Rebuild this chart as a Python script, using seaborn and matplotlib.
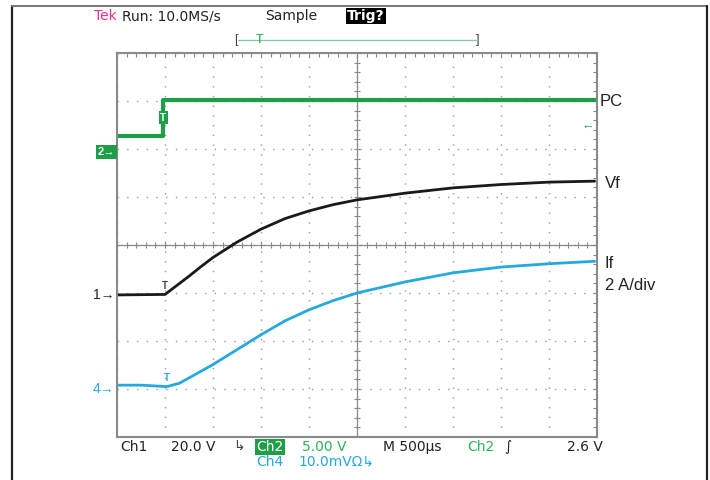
import numpy as np
import pandas as pd
import matplotlib.pyplot as plt
import matplotlib.transforms as mtrans
from matplotlib.lines import Line2D
import seaborn as sns

# --- trace data (divisions: x 0..10, y 0..8) ---
pc_x = [0.0, 0.96, 0.96, 10.0]
pc_y = [6.27, 6.27, 7.02, 7.02]

vf_x = [0.0, 1.0, 1.25, 1.5, 1.75, 2.0, 2.5, 3.0, 3.5, 4.0, 4.5, 5.0, 6.0, 7.0, 8.0, 9.0, 9.95]
vf_y = [2.96, 2.97, 3.16, 3.35, 3.55, 3.74, 4.06, 4.33, 4.55, 4.71, 4.84, 4.94, 5.08, 5.19, 5.26, 5.31, 5.33]

if_x = [0.0, 0.5, 1.04, 1.3, 1.5, 2.0, 2.5, 3.0, 3.5, 4.0, 4.5, 5.0, 6.0, 7.0, 8.0, 9.0, 9.95]
if_y = [1.08, 1.08, 1.05, 1.12, 1.23, 1.51, 1.82, 2.13, 2.42, 2.65, 2.84, 3.0, 3.23, 3.42, 3.54, 3.61, 3.66]

channels = ["PC", "Vf", "If"]
colors = {"PC": "#1f9e48", "Vf": "#1a1a1a", "If": "#25a9e0"}
widths = {"PC": 3.0, "Vf": 2.0, "If": 2.0}

df = pd.concat([
    pd.DataFrame({"t": pc_x, "v": pc_y, "ch": "PC"}),
    pd.DataFrame({"t": vf_x, "v": vf_y, "ch": "Vf"}),
    pd.DataFrame({"t": if_x, "v": if_y, "ch": "If"}),
], ignore_index=True)

sns.set_style("white")
plt.rcParams['font.family'] = ['Liberation Sans', 'DejaVu Sans']

W, H = 710, 480
fig = plt.figure(figsize=(W / 100, H / 100), dpi=100)
ax = fig.add_axes([117 / W, 1 - 437 / H, 480 / W, 384 / H])

def fx(x):
    return x / W

def fy(y):
    return 1 - y / H

# outer frame (open at bottom)
fig.add_artist(Line2D([fx(12), fx(12)], [fy(6), 0], color="#222222", lw=1.6))
fig.add_artist(Line2D([fx(12), fx(707)], [fy(6), fy(6)], color="#777777", lw=1.4))
fig.add_artist(Line2D([fx(707), fx(707)], [fy(6), 0], color="#222222", lw=1.6))

# graticule
ax.set_xlim(0, 10)
ax.set_ylim(0, 8)
ax.set_xticks(np.arange(0, 11, 1))
ax.set_yticks(np.arange(0, 9, 1))
ax.set_xticks(np.arange(0, 10.01, 0.2), minor=True)
ax.set_yticks(np.arange(0, 8.01, 0.2), minor=True)
ax.set_xticklabels([])
ax.set_yticklabels([])
ax.tick_params(which="both", direction="in", top=True, right=True, color="#888888",
               length=3, width=0.8)
ax.grid(True, which="major", color="#9a9a9a", linestyle=(0, (1, 6)), linewidth=1.0)
for s in ax.spines.values():
    s.set_color("#8a8a8a")
    s.set_linewidth(1.5)

# center cross with tick marks
ax.axvline(5, color="#8a8a8a", lw=0.9)
ax.axhline(4, color="#8a8a8a", lw=0.9)
mx = np.arange(0, 10.01, 0.2)
my = np.arange(0, 8.01, 0.2)
ax.plot(mx, np.full_like(mx, 4), ls="none", marker="|", ms=5, mew=0.8, color="#8a8a8a")
ax.plot(np.full_like(my, 5), my, ls="none", marker="_", ms=5, mew=0.8, color="#8a8a8a")

# traces
for ch in channels:
    sns.lineplot(data=df[df["ch"] == ch], x="t", y="v", ax=ax, color=colors[ch],
                 lw=widths[ch], sort=False, estimator=None, legend=False)
ax.set_xlabel("")
ax.set_ylabel("")

# trigger markers on traces
ax.text(0.96, 6.65, "T", color="white", fontsize=7, ha="center", va="center", fontweight="bold",
        bbox=dict(boxstyle="square,pad=0.15", fc=colors["PC"], ec="none"))
ax.text(1.0, 3.14, "T", color="#444444", fontsize=7, ha="center", va="center", fontweight="bold")
ax.text(1.04, 1.23, "T", color=colors["If"], fontsize=7, ha="center", va="center", fontweight="bold")
ax.text(9.8, 6.46, "\u2190", color=colors["PC"], fontsize=9, ha="center", va="center",
        fontweight="bold")

# ground markers on the left
tr = mtrans.blended_transform_factory(ax.transAxes, ax.transData)
ax.text(-0.004, 5.94, "2\u2192", transform=tr, color="white", fontsize=8, ha="right", va="center",
        fontweight="bold", bbox=dict(boxstyle="square,pad=0.15", fc=colors["PC"], ec="none"),
        clip_on=False)
ax.text(-0.006, 2.96, "1\u2192", transform=tr, color="#222222", fontsize=10, ha="right", va="center",
        clip_on=False)
ax.text(-0.006, 1.0, "4\u2192", transform=tr, color=colors["If"], fontsize=10, ha="right", va="center",
        clip_on=False)

# right-side labels
lab = dict(fontsize=12, color="#222222", va="center", ha="left")
fig.text(fx(600), fy(101), "PC", **lab)
fig.text(fx(605), fy(183), "Vf", **lab)
fig.text(fx(605), fy(263), "If", **lab)
fig.text(fx(605), fy(285), "2 A/div", **lab)

# scope header
scope = ['Liberation Sans Narrow', 'DejaVu Sans']
hdr = dict(fontsize=10, va="center", ha="left", family=scope)
fig.text(fx(94), fy(16), "Tek", color="#e5338c", **hdr)
fig.text(fx(122), fy(16), "Run: 10.0MS/s", color="#222222", **hdr)
fig.text(fx(265), fy(16), "Sample", color="#222222", **hdr)
fig.text(fx(347), fy(16), "Trig?", color="white", fontweight="bold",
         bbox=dict(boxstyle="square,pad=0.1", fc="black", ec="none"), **hdr)
fig.add_artist(Line2D([fx(238), fx(476)], [fy(40), fy(40)], color="#7fcf9a", lw=0.9))
fig.text(fx(236), fy(40), "[", color="#444444", fontsize=9, va="center", ha="center")
fig.text(fx(478), fy(40), "]", color="#444444", fontsize=9, va="center", ha="center")
fig.text(fx(260), fy(40), "T", color=colors["PC"], fontsize=9, va="center", ha="center")

# scope footer
fig.text(fx(120), fy(447), "Ch1", color="#222222", **hdr)
fig.text(fx(171), fy(447), "20.0 V", color="#222222", **hdr)
fig.text(fx(233), fy(447), "\u21b3", color="#444444", **hdr)
fig.text(fx(256), fy(447), "Ch2", color="white",
         bbox=dict(boxstyle="square,pad=0.1", fc=colors["PC"], ec="none"), **hdr)
fig.text(fx(302), fy(447), "5.00 V", color="#2db357", **hdr)
fig.text(fx(383), fy(447), "M 500\u00b5s", color="#222222", **hdr)
fig.text(fx(467), fy(447), "Ch2", color="#2db357", **hdr)
fig.text(fx(504), fy(447), "\u222b", color="#222222", **hdr)
fig.text(fx(567), fy(447), "2.6 V", color="#222222", **hdr)
fig.text(fx(256), fy(462), "Ch4", color=colors["If"], **hdr)
fig.text(fx(298), fy(462), "10.0mV\u03a9\u21b3", color=colors["If"], **hdr)

fig.savefig("out.png", dpi=100)
